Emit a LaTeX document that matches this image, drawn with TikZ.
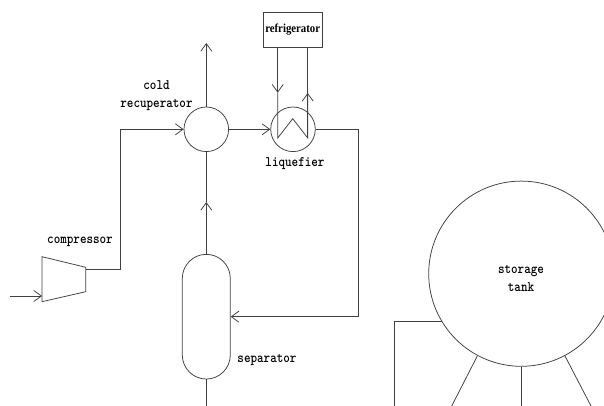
\documentclass[tikz,border=0pt]{standalone}
\usepackage{fontspec}
\newfontfamily\boxfont{Liberation Serif}
\usetikzlibrary{arrows.meta}
\newcommand{\slimtxt}[1]{\scalebox{0.86}[1]{#1}}
\tikzset{
  unit/.style={draw=black!75, line width=0.55pt, circle, inner sep=0pt, minimum size=0.446in},
  pipe/.style={draw=black!75, line width=0.55pt},
  flow/.style={pipe, -{Straight Barb[length=5.5pt, width=8pt]}},
  tag/.style={font=\ttfamily\bfseries\fontsize{10.5}{13}\selectfont, align=center, inner sep=0pt},
}
\begin{document}
\begin{tikzpicture}[x=1in,y=1in]
\useasboundingbox (0,0) rectangle (6.04,4.06);
% equipment
\node[unit] (recup) at (2.063,2.767) {};
\node[unit] (liquef) at (2.93,2.767) {};
\node[pipe, minimum width=0.48in, minimum height=1.247in, rounded corners=0.24in] (sep) at (2.063,0.893) {};
\node[pipe, minimum width=0.593in, minimum height=0.35in] (fridge) at (2.927,3.765) {};
\node[unit, minimum size=1.852in] (tank) at (5.213,1.323) {};
\draw[pipe] (0.42,1.493) coordinate (cA) -- (0.857,1.387) coordinate (cB) -- (0.857,1.143) coordinate (cC) -- (0.42,1.043) coordinate (cD) -- cycle;
% coordinates on the lines
\coordinate (inlet) at (0.10,1.10);
\coordinate (inTip) at (0.42,1.10);
\coordinate (outlet) at (0.857,1.37);
\coordinate (bendA) at (1.20,1.37);
\coordinate (bendB) at (1.20,2.767);
\coordinate (vent) at (2.063,3.63);
\coordinate (sepArrow) at (2.063,2.04);
\coordinate (sepOut) at (2.063,0);
\coordinate (bendC) at (3.58,2.767);
\coordinate (bendD) at (3.58,0.893);
\coordinate (coilA) at (2.777,2.68);
\coordinate (coilB) at (2.927,2.873);
\coordinate (coilC) at (3.077,2.68);
\coordinate (downTip) at (2.777,3.133);
\coordinate (upTip) at (3.077,3.13);
\coordinate (fridgeL) at (2.777,3.59);
\coordinate (fridgeR) at (3.077,3.59);
\coordinate (tankL) at (4.417,0.85);
\coordinate (bendE) at (3.94,0.85);
\coordinate (drainA) at (3.94,0);
\coordinate (legL) at (4.773,0.50);
\coordinate (footL) at (4.517,0);
\coordinate (footM) at (5.213,0);
\coordinate (legR) at (5.65,0.50);
\coordinate (footR) at (5.91,0);
% streams
\draw[flow] (inlet) -- (inTip);
\draw[pipe] (outlet) -- (bendA) -- (bendB);
\draw[flow] (bendB) -- (recup.west);
\draw[flow] (recup.north) -- (vent);
\draw[flow] (recup.east) -- (liquef.west);
\draw[flow] (sep.north) -- (sepArrow);
\draw[pipe] (sepArrow) -- (recup.south);
\draw[pipe] (sep.south) -- (sepOut);
\draw[pipe] (liquef.east) -- (bendC) -- (bendD);
\draw[flow] (bendD) -- (sep.east);
% coil
\draw[flow] (fridgeL) -- (downTip);
\draw[pipe] (downTip) -- (coilA) -- (coilB) -- (coilC) -- (upTip);
\draw[flow] (coilC) -- (upTip);
\draw[pipe] (upTip) -- (fridgeR);
% tank lines
\draw[pipe] (tankL) -- (bendE) -- (drainA);
\draw[pipe] (legL) -- (footL);
\draw[pipe] (tank.south) -- (footM);
\draw[pipe] (legR) -- (footR);
% labels
\node[tag] (coldT) at (1.565,3.105) {\slimtxt{cold}\\\slimtxt{recuperator}};
\node[tag] (liqT) at (2.95,2.42) {\slimtxt{liquefier}};
\node[tag] (compT) at (0.80,1.64) {\slimtxt{compressor}};
\node[tag] (sepT) at (2.67,0.455) {\slimtxt{separator}};
\node[tag] (tankT) at (5.21,1.27) {\slimtxt{storage}\\\slimtxt{tank}};
\node[font=\boxfont\bfseries\fontsize{8.8}{10}\selectfont, inner sep=0pt] (fridgeT) at (fridge) {\scalebox{0.885}[1]{refrigerator}};
\end{tikzpicture}
\end{document}
